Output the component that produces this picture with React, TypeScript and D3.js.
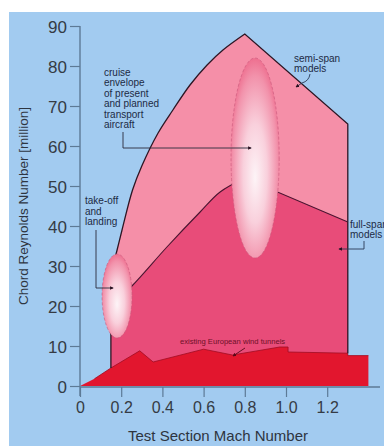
import React, { useEffect, useRef } from "react";
import * as d3 from "d3";

const machTicks = [0, 0.2, 0.4, 0.6, 0.8, 1.0, 1.2];
const reTicks = [0, 10, 20, 30, 40, 50, 60, 70, 80, 90];

const semiSpanMach = [0.15, 0.18, 0.204, 0.255, 0.3, 0.379, 0.451, 0.534, 0.617, 0.694, 0.8];
const semiSpanRe = [28, 34, 39, 49, 55, 63.25, 69, 75.25, 80.25, 84, 88];
const semiSpanEdgeMach = [0.8, 1.3, 1.3];
const semiSpanEdgeRe = [88, 65.5, 0];

const fullSpanMach = [0.15, 0.252, 0.422, 0.583, 0.68, 0.8];
const fullSpanRe = [20, 25, 34.75, 43.5, 48.5, 52];
const fullSpanEdgeMach = [0.8, 1.3, 1.3];
const fullSpanEdgeRe = [52, 41, 0];

const tunnelMach = [0, 0.07, 0.15, 0.29, 0.355, 0.6, 0.74, 0.85, 0.97, 1.01, 1.01, 1.3, 1.3, 1.4, 1.4];
const tunnelRe = [0, 1.8, 4.5, 8.8, 6, 9.2, 7.75, 8.7, 9.75, 9.75, 8.5, 8.2, 7.6, 7.6, 0];

const ellipseTakeoff = { mach: 0.18, re: 22.5, dMach: 0.073, dRe: 10.5 };
const ellipseCruise = { mach: 0.85, re: 57, dMach: 0.117, dRe: 25 };

const cruiseLines = ["cruise", "envelope", "of present", "and planned", "transport", "aircraft"];
const takeoffLines = ["take-off", "and", "landing"];
const semiLines = ["semi-span", "models"];
const fullLines = ["full-span", "models"];

const FONT = "'Liberation Sans', Arial, Helvetica, sans-serif";

export default function App() {
  const xRef = useRef<SVGGElement>(null);
  const yRef = useRef<SVGGElement>(null);

  const x = d3.scaleLinear().domain([0, 1.2]).range([80, 327.2]);
  const y = d3.scaleLinear().domain([0, 90]).range([386, 26]);

  const pts = (ms: number[], rs: number[]) => ms.map((m, i) => [x(m), y(rs[i])] as [number, number]);
  const curve = d3.line().curve(d3.curveCatmullRom.alpha(0.5));
  const straight = d3.line();

  const semiTop = curve(pts(semiSpanMach, semiSpanRe)) as string;
  const semiEdge = (straight(pts(semiSpanEdgeMach, semiSpanEdgeRe)) as string).replace(/^M/, "L");
  const semiArea = semiTop + semiEdge + `L${x(0.15)},${y(0)}Z`;

  const fullTop = curve(pts(fullSpanMach, fullSpanRe)) as string;
  const fullEdge = (straight(pts(fullSpanEdgeMach, fullSpanEdgeRe)) as string).replace(/^M/, "L");
  const fullArea = fullTop + fullEdge + `L${x(0.15)},${y(0)}Z`;

  const tunnelPts = pts(tunnelMach, tunnelRe);
  const tunnelArea = (straight(tunnelPts) as string) + "Z";
  const tunnelTop = straight(tunnelPts.slice(1, tunnelPts.length - 1)) as string;

  const semiOutline = semiTop + (straight(pts([0.8, 1.3, 1.3], [88, 65.5, 8.2])) as string).replace(/^M/, "L");
  const semiLeft = straight(pts([0.15, 0.15], [4.5, 28])) as string;
  const fullOutline = fullTop + (straight(pts([0.8, 1.3], [52, 41])) as string).replace(/^M/, "L");

  useEffect(() => {
    if (yRef.current) {
      const g = d3.select(yRef.current);
      g.selectAll("*").remove();
      g.call(
        d3.axisLeft(y).tickValues(reTicks).tickSize(10).tickSizeOuter(0).tickPadding(3).tickFormat(d3.format("d"))
      );
      g.select(".domain").remove();
      g.selectAll("line").attr("stroke", "#5d7a96").attr("stroke-width", 1.2);
      g.selectAll("text")
        .attr("font-family", FONT)
        .attr("font-size", 17)
        .attr("fill", "#353b44")
        .attr("dy", "0.36em");
    }
    if (xRef.current) {
      const g = d3.select(xRef.current);
      g.selectAll("*").remove();
      g.call(
        d3
          .axisBottom(x)
          .tickValues(machTicks)
          .tickSize(10)
          .tickSizeOuter(0)
          .tickPadding(5)
          .tickFormat((d: any) => (d === 0 ? "0" : d3.format(".1f")(d)))
      );
      g.select(".domain").remove();
      g.selectAll("line").attr("stroke", "#5d7a96").attr("stroke-width", 1.2);
      g.selectAll("text")
        .attr("font-family", FONT)
        .attr("font-size", 16)
        .attr("fill", "#353b44");
    }
  }, []);

  const eT = {
    cx: x(ellipseTakeoff.mach),
    cy: y(ellipseTakeoff.re),
    rx: x(ellipseTakeoff.dMach) - x(0),
    ry: y(0) - y(ellipseTakeoff.dRe),
  };
  const eC = {
    cx: x(ellipseCruise.mach),
    cy: y(ellipseCruise.re),
    rx: x(ellipseCruise.dMach) - x(0),
    ry: y(0) - y(ellipseCruise.dRe),
  };

  return (
    <svg
      width={384}
      height={446}
      style={{ position: "absolute", left: 0, top: 0, display: "block" }}
      xmlns="http://www.w3.org/2000/svg"
    >
      <defs>
        <radialGradient id="ellGrad" cx="0.5" cy="0.55" r="0.55" fx="0.5" fy="0.6">
          <stop offset="0" stopColor="#fdf4f7" />
          <stop offset="0.45" stopColor="#f9d0dc" />
          <stop offset="0.85" stopColor="#f292ab" />
          <stop offset="1" stopColor="#ee7090" />
        </radialGradient>
        <marker id="arr" viewBox="0 0 6 6" refX="5" refY="3" markerWidth="4" markerHeight="4" orient="auto">
          <path d="M0,0L6,3L0,6Z" fill="#2a1020" />
        </marker>
        <marker id="arrR" viewBox="0 0 6 6" refX="5" refY="3" markerWidth="4" markerHeight="4" orient="auto">
          <path d="M0,0L6,3L0,6Z" fill="#5a0818" />
        </marker>
      </defs>
      <rect x={0} y={0} width={384} height={446} fill="#ffffff" />
      <rect x={9} y={12} width={375} height={434} fill="#a2cbf0" />

      {/* regions */}
      <path d={semiArea} fill="#f58fa8" />
      <path d={fullArea} fill="#e84c79" />
      <path d={tunnelArea} fill="#e2162e" />
      <path d={tunnelTop} fill="none" stroke="#a00c22" strokeWidth={0.8} />

      {/* outlines */}
      <path d={semiOutline} fill="none" stroke="#2d1624" strokeWidth={1.3} />
      <path d={semiLeft} fill="none" stroke="#2d1624" strokeWidth={1.3} />
      <path d={fullOutline} fill="none" stroke="#4a1430" strokeWidth={1.1} />

      {/* axes */}
      <line x1={x(0)} x2={x(0)} y1={y(90)} y2={y(0) + 10} stroke="#5d7a96" strokeWidth={1.4} />
      <line x1={x(0)} x2={380} y1={y(0) + 1} y2={y(0) + 1} stroke="#5d7a96" strokeWidth={1.4} />
      <g ref={yRef} transform={`translate(${x(0)},0)`} />
      <g ref={xRef} transform={`translate(0,${y(0) + 1})`} />

      {/* ellipses */}
      <ellipse cx={eT.cx} cy={eT.cy} rx={eT.rx} ry={eT.ry} fill="url(#ellGrad)" stroke="#c8587a" strokeWidth={0.6} strokeDasharray="3 2" />
      <ellipse cx={eC.cx} cy={eC.cy} rx={eC.rx} ry={eC.ry} fill="url(#ellGrad)" stroke="#c8587a" strokeWidth={0.6} strokeDasharray="3 2" />

      {/* annotations */}
      <g fontFamily={FONT} fontSize={10} fill="#1c2a44">
        {cruiseLines.map((t, i) => (
          <text key={t} x={104} y={76 + i * 10.4}>{t}</text>
        ))}
        {takeoffLines.map((t, i) => (
          <text key={t} x={85} y={204 + i * 10.5}>{t}</text>
        ))}
        {semiLines.map((t, i) => (
          <text key={t} x={294} y={62 + i * 10}>{t}</text>
        ))}
        {fullLines.map((t, i) => (
          <text key={t} x={350} y={228 + i * 10}>{t}</text>
        ))}
      </g>
      <path d={`M123,132L123,148L${eC.cx - 4},148`} fill="none" stroke="#2a2a3a" strokeWidth={0.9} markerEnd="url(#arr)" />
      <path d={`M96,230L96,288L${eT.cx - 4},288`} fill="none" stroke="#2a2a3a" strokeWidth={0.9} markerEnd="url(#arr)" />
      <path d="M310,74Q309,81 302,83L296,87" fill="none" stroke="#2a3a55" strokeWidth={0.9} markerEnd="url(#arr)" />
      <path d="M364,241L364,249L339,249" fill="none" stroke="#2a3a55" strokeWidth={0.9} markerEnd="url(#arr)" />

      <text x={180} y={344} fontFamily={FONT} fontSize={7.6} fill="#6e1028">existing European wind tunnels</text>
      <path d="M245,348L233,356" fill="none" stroke="#5a0818" strokeWidth={0.9} markerEnd="url(#arrR)" />

      {/* axis titles */}
      <text x={218} y={441} textAnchor="middle" fontFamily={FONT} fontSize={15} fill="#2e3540">
        Test Section Mach Number
      </text>
      <text
        transform="translate(28,206) rotate(-90)"
        textAnchor="middle"
        fontFamily={FONT}
        fontSize={13.5}
        fill="#2e3540"
      >
        Chord Reynolds Number [million]
      </text>
    </svg>
  );
}
